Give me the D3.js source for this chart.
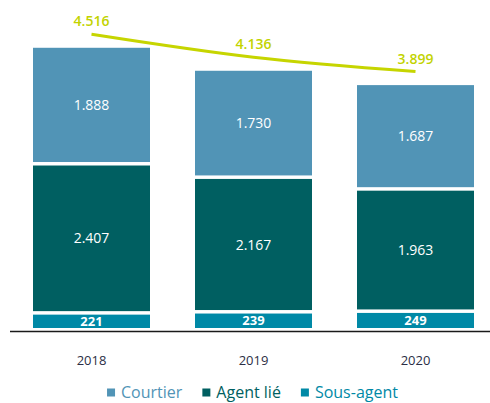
<!DOCTYPE html>
<html>
<head>
<meta charset="utf-8">
<script src="https://cdn.jsdelivr.net/npm/d3@7"></script>
<style>
  body { margin: 0; background: #fff; }
  svg { display: block; font-family: "Open Sans", sans-serif; }
</style>
</head>
<body>
<svg width="490" height="403"></svg>
<script>
const years = ["2018", "2019", "2020"];
const courtier = [1888, 1730, 1687];
const agentLie = [2407, 2167, 1963];
const sousAgent = [221, 239, 249];
const totals = [4516, 4136, 3899];
const seriesNames = ["Sous-agent", "Agent lié", "Courtier"];
const legendOrder = ["Courtier", "Agent lié", "Sous-agent"];
const colors = { "Courtier": "#5194b6", "Agent lié": "#005f61", "Sous-agent": "#0089a6" };

const fmt = v => d3.format(",")(v).replace(/,/g, ".");

const svg = d3.select("svg");

const x = d3.scaleBand()
    .domain(years)
    .range([10.5, 496.5])
    .paddingInner(45 / 162)
    .paddingOuter(22.5 / 162);

const y = d3.scaleLinear().domain([0, 5000]).range([328, 25.5]);
const gap = 3.5;
const lineLift = 20.5;

const rows = years.map((yr, i) => ({
    year: yr,
    "Sous-agent": sousAgent[i],
    "Agent lié": agentLie[i],
    "Courtier": courtier[i]
}));

const stacked = d3.stack().keys(seriesNames)(rows);

const layers = svg.append("g")
    .selectAll("g")
    .data(stacked)
    .enter()
    .append("g")
    .attr("fill", d => colors[d.key]);

layers.selectAll("rect")
    .data((d, li) => d.map(s => ({ s, li, key: d.key })))
    .enter()
    .append("rect")
    .attr("x", d => x(d.s.data.year))
    .attr("width", x.bandwidth())
    .attr("y", d => y(d.s[1]) - d.li * gap)
    .attr("height", d => y(d.s[0]) - y(d.s[1]));

layers.selectAll("text")
    .data((d, li) => d.map(s => ({ s, li, key: d.key })))
    .enter()
    .append("text")
    .attr("x", d => x(d.s.data.year) + x.bandwidth() / 2)
    .attr("y", d => (y(d.s[0]) + y(d.s[1])) / 2 - d.li * gap)
    .attr("dy", "0.36em")
    .attr("text-anchor", "middle")
    .attr("fill", "#fff")
    .style("font-size", d => d.key === "Sous-agent" ? "13px" : "14px")
    .style("font-weight", d => d.key === "Sous-agent" ? 700 : 500)
    .text(d => fmt(d.s[1] - d.s[0]));

// baseline axis
svg.append("line")
    .attr("x1", 10).attr("x2", 490)
    .attr("y1", 331.5).attr("y2", 331.5)
    .attr("stroke", "#1a1a1a")
    .attr("stroke-width", 1.3);

const xAxis = svg.append("g")
    .attr("transform", "translate(0,331.5)")
    .call(d3.axisBottom(x).tickSize(0).tickPadding(24));
xAxis.select(".domain").remove();
xAxis.selectAll("text")
    .style("font-family", "'Open Sans', sans-serif")
    .style("font-size", "13px")
    .attr("fill", "#2b2e45");

// total line
const lineData = years.map((yr, i) => ({ year: yr, v: totals[i] }));
const line = d3.line()
    .x(d => x(d.year) + x.bandwidth() / 2)
    .y(d => y(d.v) - lineLift)
    .curve(d3.curveMonotoneX);

svg.append("path")
    .datum(lineData)
    .attr("d", line)
    .attr("fill", "none")
    .attr("stroke", "#c6d500")
    .attr("stroke-width", 3);

svg.append("g")
    .selectAll("text")
    .data(lineData)
    .enter()
    .append("text")
    .attr("x", d => x(d.year) + x.bandwidth() / 2)
    .attr("y", d => y(d.v) - lineLift - 8)
    .attr("text-anchor", "middle")
    .attr("fill", "#c2d300")
    .style("font-size", "14px")
    .style("font-weight", 600)
    .text(d => fmt(d.v));

// legend
const legend = svg.append("g");
const items = legend.selectAll("g")
    .data(legendOrder)
    .enter()
    .append("g");
items.append("rect")
    .attr("width", 8).attr("height", 8)
    .attr("y", -4)
    .attr("fill", d => colors[d]);
items.append("text")
    .attr("x", 14)
    .attr("dy", "0.36em")
    .attr("fill", d => colors[d])
    .style("font-size", "16px")
    .text(d => d);

let cx = 0;
items.each(function () {
    const w = 14 + this.querySelector("text").getComputedTextLength();
    d3.select(this).attr("transform", `translate(${cx},0)`);
    cx += w + 20;
});
const total = cx - 20;
legend.attr("transform", `translate(${252.5 - total / 2},392.5)`);
</script>
</body>
</html>
